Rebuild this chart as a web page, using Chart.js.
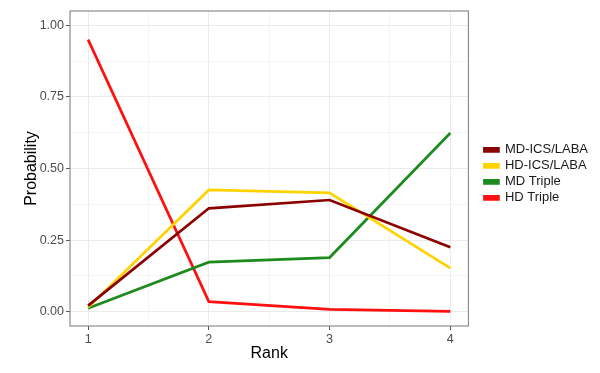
<!DOCTYPE html>
<html>
<head>
<meta charset="utf-8">
<script src="https://cdn.jsdelivr.net/npm/chart.js@4.4.0/dist/chart.umd.min.js"></script>
<style>
  html, body { margin: 0; padding: 0; background: #fff; }
  #wrap { width: 600px; height: 373px; }
</style>
</head>
<body>
<div id="wrap"><canvas id="chart" width="600" height="373"></canvas></div>
<script>
// ranks and rank probabilities
const ranks = [1, 2, 3, 4];
const mdIcsLaba = [0.021, 0.361, 0.390, 0.225];
const hdIcsLaba = [0.015, 0.425, 0.415, 0.152];
const mdTriple  = [0.012, 0.173, 0.189, 0.624];
const hdTriple  = [0.950, 0.035, 0.008, 0.001];
const yTicks = [0, 0.25, 0.5, 0.75, 1];

const pts = vals => vals.map((v, i) => ({ x: ranks[i], y: v }));

const font = 'Liberation Sans, Arial, sans-serif';
const legendGap = 13;

// panel border like ggplot theme_bw
const panelBorder = {
  id: 'panelBorder',
  afterDraw(c) {
    const a = c.chartArea, ctx = c.ctx;
    ctx.save();
    ctx.strokeStyle = '#8c8c8c';
    ctx.lineWidth = 1.2;
    ctx.strokeRect(a.left, a.top, a.right - a.left, a.bottom - a.top);
    ctx.restore();
  }
};

// leave some room between the panel and the legend
const legendSpace = {
  id: 'legendSpace',
  beforeLayout(c) {
    const lg = c.legend;
    if (lg && !lg._gapPatched) {
      const fit = lg.fit.bind(lg);
      lg.fit = function () { fit(); this.width += legendGap; };
      lg._gapPatched = true;
    }
  },
  afterLayout(c) {
    if (c.legend) c.legend.left += legendGap;
  }
};

const ds = (label, vals, color) => ({
  label: label,
  data: pts(vals),
  borderColor: color,
  backgroundColor: color,
  borderWidth: 2.7,
  pointRadius: 0,
  tension: 0
});

let chart = new Chart(document.getElementById('chart').getContext('2d'), {
  type: 'line',
  data: {
    datasets: [
      ds('MD-ICS/LABA', mdIcsLaba, '#8B0000'),
      ds('HD-ICS/LABA', hdIcsLaba, '#FFD200'),
      ds('MD Triple', mdTriple, '#1E8B1E'),
      ds('HD Triple', hdTriple, '#FF1010')
    ]
  },
  options: {
    responsive: false,
    animation: false,
    layout: { padding: { top: 11, right: 2, left: 0, bottom: 0 } },
    plugins: {
      legend: {
        position: 'right',
        fullSize: false,
        title: { display: true, text: ' ', padding: 0, font: { size: 9 } },
        labels: {
          boxWidth: 14,
          boxHeight: 3,
          padding: 3,
          color: '#1a1a1a',
          font: { family: font, size: 13 }
        }
      },
      tooltip: { enabled: false }
    },
    scales: {
      x: {
        type: 'linear',
        min: 0.85,
        max: 4.15,
        afterBuildTicks: s => { s.ticks = [1, 1.5, 2, 2.5, 3, 3.5, 4].map(v => ({ value: v })); },
        afterFit: s => { s.height = 47; },
        border: { display: false },
        grid: {
          color: c => Number.isInteger(c.tick.value) ? '#ebebeb' : '#f5f5f5',
          tickColor: c => Number.isInteger(c.tick.value) ? '#555' : 'rgba(0,0,0,0)',
          tickLength: 4
        },
        ticks: {
          autoSkip: false,
          maxRotation: 0,
          color: '#4d4d4d',
          padding: 2,
          font: { family: font, size: 12.5 },
          callback: v => Number.isInteger(v) ? String(v) : ''
        },
        title: {
          display: true,
          text: 'Rank',
          color: '#000',
          padding: { top: 0, bottom: 10 },
          font: { family: font, size: 16 }
        }
      },
      y: {
        min: -0.05,
        max: 1.05,
        afterBuildTicks: s => {
          const t = [];
          yTicks.forEach(v => { t.push({ value: v }); if (v < 1) t.push({ value: v + 0.125 }); });
          s.ticks = t;
        },
        afterFit: s => { s.width = 70; },
        border: { display: false },
        grid: {
          color: c => yTicks.includes(c.tick.value) ? '#ebebeb' : '#f5f5f5',
          tickColor: c => yTicks.includes(c.tick.value) ? '#555' : 'rgba(0,0,0,0)',
          tickLength: 4
        },
        ticks: {
          autoSkip: false,
          color: '#4d4d4d',
          padding: 2,
          font: { family: font, size: 12.5 },
          callback: v => yTicks.includes(v) ? v.toFixed(2) : ''
        },
        title: {
          display: true,
          text: 'Probability',
          color: '#000',
          padding: { top: 22, bottom: 0 },
          font: { family: font, size: 16 }
        }
      }
    }
  },
  plugins: [panelBorder, legendSpace]
});
</script>
</body>
</html>
